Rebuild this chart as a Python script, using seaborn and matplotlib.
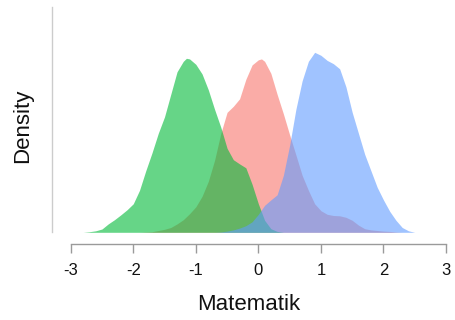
import matplotlib
matplotlib.use("Agg")
import matplotlib.pyplot as plt
import seaborn as sns
import pandas as pd

# ===============================
# DATA (density curves)
# ===============================
green_x = [-2.8, -2.7, -2.6, -2.5, -2.4, -2.3, -2.2, -2.1, -2.0, -1.9, -1.8, -1.7,
           -1.6, -1.5, -1.4, -1.3, -1.2, -1.15, -1.1, -1.0, -0.9, -0.8, -0.7, -0.6, -0.5,
           -0.4, -0.3, -0.2, -0.1, 0.0, 0.1, 0.2, 0.3, 0.4]
green_y = [0.0, 0.002, 0.005, 0.011, 0.028, 0.042, 0.058, 0.075, 0.095, 0.14, 0.205, 0.265,
           0.33, 0.385, 0.46, 0.535, 0.57, 0.58, 0.578, 0.56, 0.528, 0.475, 0.41, 0.35, 0.28,
           0.242, 0.228, 0.215, 0.16, 0.095, 0.04, 0.012, 0.003, 0.0]

red_x = [-1.9, -1.8, -1.7, -1.6, -1.5, -1.4, -1.3, -1.2, -1.1, -1.0, -0.9, -0.8, -0.7,
         -0.6, -0.5, -0.4, -0.3, -0.2, -0.1, 0.0, 0.05, 0.1, 0.2, 0.3, 0.4, 0.5, 0.6, 0.7,
         0.8, 0.9, 1.0, 1.1, 1.2, 1.3, 1.4, 1.5, 1.6, 1.7, 1.8, 1.9, 2.0, 2.1, 2.2, 2.3]
red_y = [0.0, 0.001, 0.002, 0.006, 0.01, 0.016, 0.028, 0.042, 0.062, 0.085, 0.12, 0.17, 0.24,
         0.33, 0.40, 0.42, 0.445, 0.51, 0.558, 0.575, 0.578, 0.57, 0.53, 0.46, 0.395, 0.325, 0.258,
         0.19, 0.14, 0.095, 0.072, 0.06, 0.056, 0.055, 0.05, 0.04, 0.024, 0.012, 0.008, 0.006,
         0.004, 0.003, 0.001, 0.0]

blue_x = [-0.7, -0.6, -0.5, -0.4, -0.3, -0.2, -0.1, 0.0, 0.1, 0.2, 0.3, 0.4, 0.5, 0.6,
          0.7, 0.8, 0.9, 1.0, 1.1, 1.2, 1.3, 1.4, 1.5, 1.6, 1.7, 1.8, 1.9, 2.0, 2.1,
          2.2, 2.3, 2.4, 2.5]
blue_y = [0.0, 0.001, 0.004, 0.008, 0.014, 0.022, 0.035, 0.06, 0.09, 0.108, 0.125, 0.19, 0.29, 0.41,
          0.505, 0.57, 0.60, 0.59, 0.573, 0.562, 0.545, 0.485, 0.40, 0.33, 0.26, 0.205, 0.15, 0.108,
          0.07, 0.04, 0.016, 0.005, 0.0]

x_ticks = [-3, -2, -1, 0, 1, 2, 3]

series = [
    ("red", red_x, red_y, "#F8766D"),
    ("green", green_x, green_y, "#00BA38"),
    ("blue", blue_x, blue_y, "#619CFF"),
]

# ===============================
# STYLE
# ===============================
sns.set_style("white")
plt.rcParams['font.family'] = ['Liberation Sans', 'DejaVu Sans']

fig = plt.figure(figsize=(4.56, 3.2), dpi=100)
ax = fig.add_axes([0.1147, 0.2375, 0.8634, 0.7406])

# ===============================
# PLOT
# ===============================
for name, xs, ys, col in series:
    df = pd.DataFrame({"x": xs, "y": ys})
    ax.fill_between(df["x"], 0, df["y"], color=col, alpha=0.6, linewidth=0)

ax.set_xlim(-3.294, 3.0)
ax.set_ylim(-0.039, 0.751)

ax.set_xticks(x_ticks)
ax.set_xticklabels([str(t) for t in x_ticks], fontsize=12)
ax.set_yticks([])

ax.spines['top'].set_visible(False)
ax.spines['right'].set_visible(False)
ax.spines['bottom'].set_bounds(-3, 3)
ax.spines['bottom'].set_color("#9a9a9a")
ax.spines['bottom'].set_linewidth(1.0)
ax.spines['left'].set_bounds(0, 0.751)
ax.spines['left'].set_color("#cccccc")
ax.spines['left'].set_linewidth(1.0)

ax.tick_params(axis='x', length=6.5, width=1.0, color="#9a9a9a", pad=7,
               bottom=True, labelcolor="#111111")

ax.set_xlabel("Matematik", fontsize=16, labelpad=12, color="#111111")
ax.set_ylabel("Density", fontsize=16, labelpad=14, color="#111111")

plt.savefig("out.png", dpi=100)
